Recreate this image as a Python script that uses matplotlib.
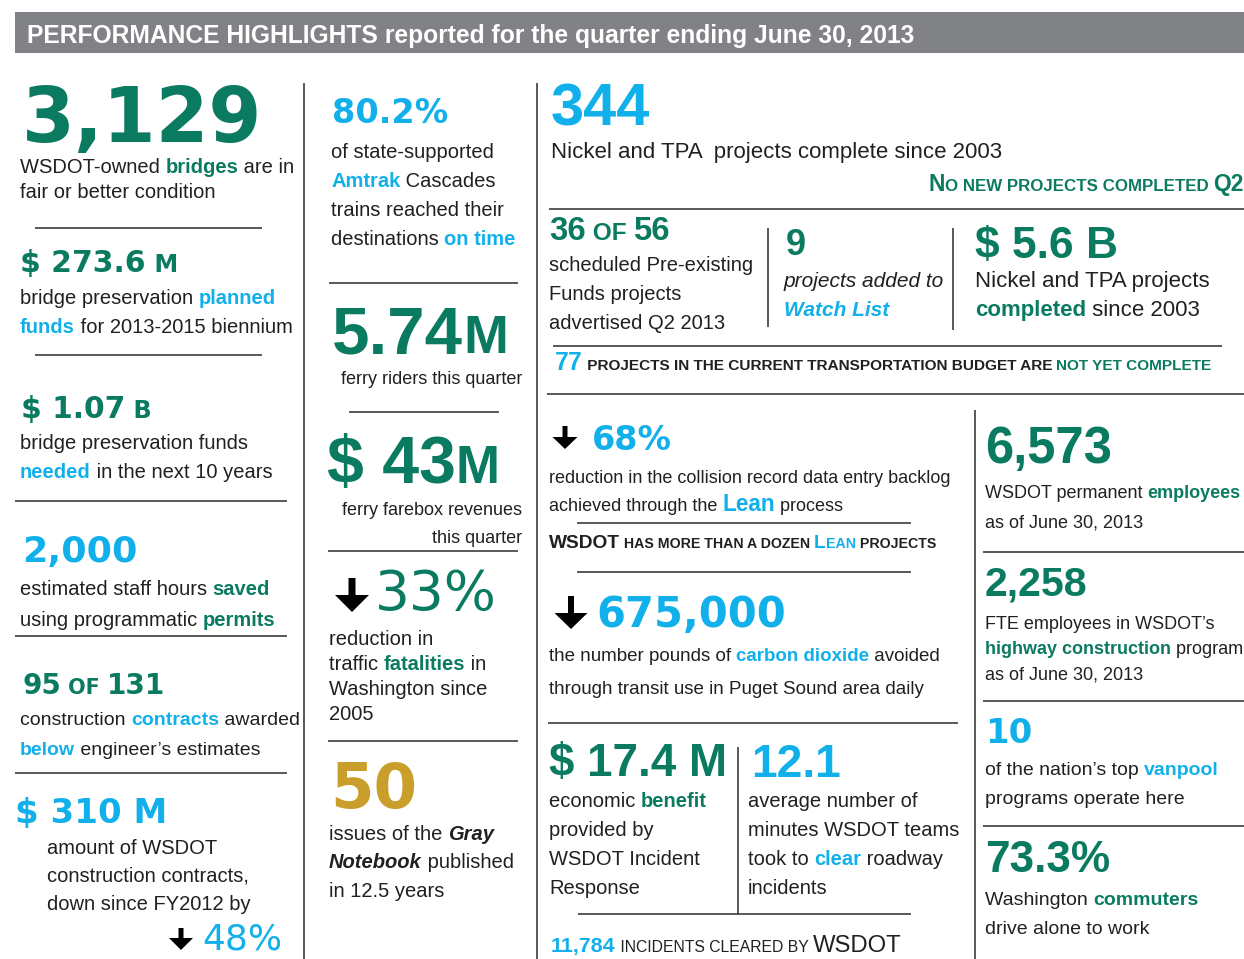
import re
import matplotlib
matplotlib.use('Agg')
import matplotlib.pyplot as plt
from matplotlib.patches import FancyArrow, Rectangle

GREEN = '#0a7b60'
BLUE = '#12b0ea'
GOLD = '#c99e2a'
DARK = '#231f20'
GRAY = '#808285'
LIB = 'Liberation Sans'
DJ = 'DejaVu Sans'

title_bold = 'PERFORMANCE HIGHLIGHTS'
title_rest = ' reported for the quarter ending June 30, 2013'

# headline figures per column (unit suffix drawn smaller)
col1_figures = ['3,129', '$ 273.6', '$ 1.07', '2,000', '95 of 131', '$ 310 M', '48%']
col1_units = ['', ' M', ' B', '', '', '', '']
col2_figures = ['80.2%', '5.74', '$ 43', '33%', '50']
col2_units = ['', 'M', 'M', '', '']
col3_figures = ['344', '36 of 56', '9', '$ 5.6 B', '77', '68%', '675,000', '$ 17.4 M', '12.1', '11,784']
col4_figures = ['6,573', '2,258', '10', '73.3%']

# captions, {g:..} green, {b:..} blue, {k:..} bold italic, {bi:..} blue bold italic
col1_captions = [
    ['WSDOT-owned {g:bridges} are in', 'fair or better condition'],
    ['bridge preservation {b:planned}', '{b:funds} for 2013-2015 biennium'],
    ['bridge preservation funds', '{b:needed} in the next 10 years'],
    ['estimated staff hours {g:saved}', 'using programmatic {g:permits}'],
    ['construction {b:contracts} awarded', '{b:below} engineer\u2019s estimates'],
    ['amount of WSDOT', 'construction contracts,', 'down since FY2012 by'],
]
col2_captions = [
    ['of state-supported', '{b:Amtrak} Cascades', 'trains reached their', 'destinations {b:on time}'],
    ['ferry riders this quarter'],
    ['ferry farebox revenues', 'this quarter'],
    ['reduction in', 'traffic {g:fatalities} in', 'Washington since', '2005'],
    ['issues of the {k:Gray}', '{k:Notebook} published', 'in 12.5 years'],
]
col3_captions = [
    ['Nickel and TPA  projects complete since 2003'],
    ['scheduled Pre-existing', 'Funds projects', 'advertised Q2 2013'],
    ['{i:projects added to}', '{bi:Watch List}'],
    ['Nickel and TPA projects', '{g:completed} since 2003'],
    ['reduction in the collision record data entry backlog', 'achieved through the {B:Lean} process'],
    ['the number pounds of {b:carbon dioxide} avoided', 'through transit use in Puget Sound area daily'],
    ['economic {g:benefit}', 'provided by', 'WSDOT Incident', 'Response'],
    ['average number of', 'minutes WSDOT teams', 'took to {b:clear} roadway', 'incidents'],
]
col4_captions = [
    ['WSDOT permanent {g:employees}', 'as of June 30, 2013'],
    ['FTE employees in WSDOT\u2019s', '{g:highway construction} program', 'as of June 30, 2013'],
    ['of the nation\u2019s top {b:vanpool}', 'programs operate here'],
    ['Washington {g:commuters}', 'drive alone to work'],
]
banner_no_new = 'No new projects completed Q2'
banner_77 = ' projects in the current transportation budget are '
banner_77_end = 'not yet complete'
banner_lean = ['WSDOT has more than a dozen ', 'Lean', ' projects']
banner_incidents = ' incidents cleared by '

fig = plt.figure(figsize=(12.44, 9.59), dpi=100)
ax = fig.add_axes([0, 0, 1, 1])
ax.set_xlim(0, 1244)
ax.set_ylim(959, 0)
ax.axis('off')
renderer = fig.canvas.get_renderer()

ACCENT = {'g': (GREEN, 'bold', 'normal', 1.0), 'b': (BLUE, 'bold', 'normal', 1.0),
          'B': (BLUE, 'bold', 'normal', 1.25), 'k': (DARK, 'bold', 'italic', 1.0),
          'bi': (BLUE, 'bold', 'italic', 1.0), 'i': (DARK, 'normal', 'italic', 1.0)}


def style(size, color=DARK, weight='normal', fstyle='normal', family=LIB):
    return dict(fontsize=size, color=color, fontweight=weight, fontstyle=fstyle, family=family)


def markup(line, size, family=LIB):
    parts = []
    for tag, inner, plain in re.findall(r'\{(\w+):([^}]*)\}|([^{]+)', line):
        if plain:
            parts.append((plain, style(size, family=family)))
        else:
            c, w, s, k = ACCENT[tag]
            parts.append((inner, style(size * k, c, w, s, family)))
    return parts


def smallcaps(text, size, ratio=0.74, **kw):
    parts = []
    for run in re.findall(r'[a-z ]+|[^a-z ]+', text):
        if run.strip() == '' or run.replace(' ', '').islower():
            parts.append((run.upper(), style(size * ratio, **kw)))
        else:
            parts.append((run, style(size, **kw)))
    return parts


def advance(s, kw):
    # advance width incl. spaces: measure between two sentinel bars
    a = ax.text(0, 0, '|' + s + '|', **kw)
    b = ax.text(0, 0, '||', **kw)
    w = a.get_window_extent(renderer).width - b.get_window_extent(renderer).width
    a.remove()
    b.remove()
    return w


def rich(x, y, parts, ha='left', width=None):
    if width is not None:
        total = sum(advance(s, kw) for s, kw in parts)
        k = width / total
        parts = [(s, dict(kw, fontsize=kw['fontsize'] * k)) for s, kw in parts]
    widths = [advance(s, kw) for s, kw in parts]
    if ha == 'right':
        x -= sum(widths)
    for (s, kw), w in zip(parts, widths):
        ax.text(x, y, s, va='baseline', ha='left', **kw)
        x += w


def block(x, y, step, lines, size, ha='left'):
    for i, line in enumerate(lines):
        rich(x, y + i * step, markup(line, size), ha=ha)


def figure(x, y, text, color, width, unit='', family=DJ, weight='bold', ratio=0.8):
    parts = [(text, style(40, color, weight, family=family))]
    if unit:
        parts.append((unit, style(40 * ratio, color, weight, family=family)))
    rich(x, y, parts, width=width)


def down_arrow(xc, ytop, length, stem, head_w, head_l):
    ax.add_patch(FancyArrow(xc, ytop, 0, length, width=stem, head_width=head_w,
                            head_length=head_l, length_includes_head=True,
                            color='black', lw=0))


# header bar
ax.add_patch(Rectangle((15, 12), 1229, 41, color=GRAY, lw=0))
rich(27, 43, [(title_bold, style(17, 'white', 'bold')),
              (title_rest, style(17, 'white', 'bold'))], width=889)

# rules
hrules = [(35, 262, 228), (35, 262, 355), (15, 287, 501), (15, 287, 636), (15, 287, 773),
          (329, 518, 283), (349, 499, 412), (328, 518, 551), (328, 518, 741),
          (549, 1244, 209), (553, 1222, 346), (547, 1244, 394), (577, 911, 523),
          (577, 911, 572), (548, 958, 723), (578, 911, 914),
          (983, 1244, 552), (983, 1244, 701), (983, 1244, 826)]
vrules = [(304, 83, 959), (537, 83, 959), (768, 228, 327), (953, 228, 330),
          (975, 410, 959), (738, 747, 914)]
for x0, x1, y in hrules:
    ax.plot([x0, x1], [y, y], color='#2b2b2b', lw=1.1, solid_capstyle='butt')
for x, y0, y1 in vrules:
    ax.plot([x, x], [y0, y1], color='#2b2b2b', lw=1.1, solid_capstyle='butt')

# column 1
figure(22, 142, col1_figures[0], GREEN, 240)
figure(20, 272, col1_figures[1], GREEN, 158, col1_units[1])
figure(21, 418, col1_figures[2], GREEN, 131, col1_units[2])
figure(22, 562, col1_figures[3], BLUE, 115)
rich(22, 694, smallcaps(col1_figures[4], 40, color=GREEN, weight='bold', family=DJ), width=143)
figure(15, 823, col1_figures[5], BLUE, 152)
down_arrow(181, 928, 22, 5, 24, 12)
figure(202, 950, col1_figures[6], BLUE, 80, weight='normal')
block(20, 173, 25, col1_captions[0], 14.5)
block(20, 304, 29, col1_captions[1], 14.5)
block(20, 449, 29, col1_captions[2], 14.5)
block(20, 595, 31, col1_captions[3], 14.5)
block(20, 725, 30, col1_captions[4], 14)
block(47, 854, 28, col1_captions[5], 14.5)

# column 2
figure(332, 123, col2_figures[0], BLUE, 116)
figure(332, 353, col2_figures[1], GREEN, 176, col2_units[1], family=LIB)
figure(327, 483, col2_figures[2], GREEN, 173, col2_units[2], family=LIB)
down_arrow(352, 578, 34, 7, 34, 17)
figure(375, 610, col2_figures[3], GREEN, 122, weight='normal')
figure(330, 808, col2_figures[4], GOLD, 87)
block(331, 158, 29, col2_captions[0], 14.5)
block(522, 384, 0, col2_captions[1], 13, ha='right')
block(522, 515, 28, col2_captions[2], 13, ha='right')
block(329, 645, 25, col2_captions[3], 14.5)
block(329, 840, 28.5, col2_captions[4], 14.5)

# column 3
figure(551, 125, col3_figures[0], BLUE, 99, family=LIB)
rich(1244, 191, smallcaps(banner_no_new, 20, color=GREEN, weight='bold'), ha='right', width=314)
rich(549, 240, smallcaps(col3_figures[1], 24, color=GREEN, weight='bold'), width=121)
figure(786, 255, col3_figures[2], GREEN, 20, family=LIB)
figure(975, 258, col3_figures[3], GREEN, 143, family=LIB)
rich(555, 370, [(col3_figures[4], style(18, BLUE, 'bold'))]
     + smallcaps(banner_77, 15, color=DARK, weight='bold')
     + smallcaps(banner_77_end, 15, color=GREEN, weight='bold'), width=655)
down_arrow(565, 426, 23, 5, 25, 12)
figure(592, 450, col3_figures[5], BLUE, 80)
rich(549, 548, smallcaps(banner_lean[0], 17, color=DARK, weight='bold')
     + smallcaps(banner_lean[1], 17, color=BLUE, weight='bold')
     + smallcaps(banner_lean[2], 17, color=DARK, weight='bold'), width=388)
down_arrow(571, 596, 33, 6, 33, 16)
figure(596, 627, col3_figures[6], BLUE, 189)
figure(549, 776, col3_figures[7], GREEN, 178, family=LIB)
figure(751, 777, col3_figures[8], BLUE, 90, family=LIB)
rich(551, 952, [(col3_figures[9], style(17, BLUE, 'bold'))]
     + smallcaps(banner_incidents, 17, color=DARK)
     + [('WSDOT', style(19, DARK))], width=350)
block(551, 158, 0, col3_captions[0], 16)
block(549, 271, 29, col3_captions[1], 14.5)
block(784, 287, 29, col3_captions[2], 15)
block(975, 287, 29, col3_captions[3], 16)
block(549, 483, 28, col3_captions[4], 13)
block(549, 661, 33, col3_captions[5], 13.5)
block(549, 807, 29, col3_captions[6], 14.5)
block(748, 807, 29, col3_captions[7], 14.5)

# column 4
figure(985, 463, col4_figures[0], GREEN, 127, family=LIB)
figure(985, 595, col4_figures[1], GREEN, 103, family=LIB)
figure(985, 743, col4_figures[2], BLUE, 47)
figure(985, 872, col4_figures[3], GREEN, 125, family=LIB)
block(985, 498, 29, col4_captions[0], 13)
block(985, 629, 25, col4_captions[1], 13)
block(985, 775, 29, col4_captions[2], 14)
block(985, 905, 29, col4_captions[3], 14)

fig.savefig('out.png', dpi=100)
